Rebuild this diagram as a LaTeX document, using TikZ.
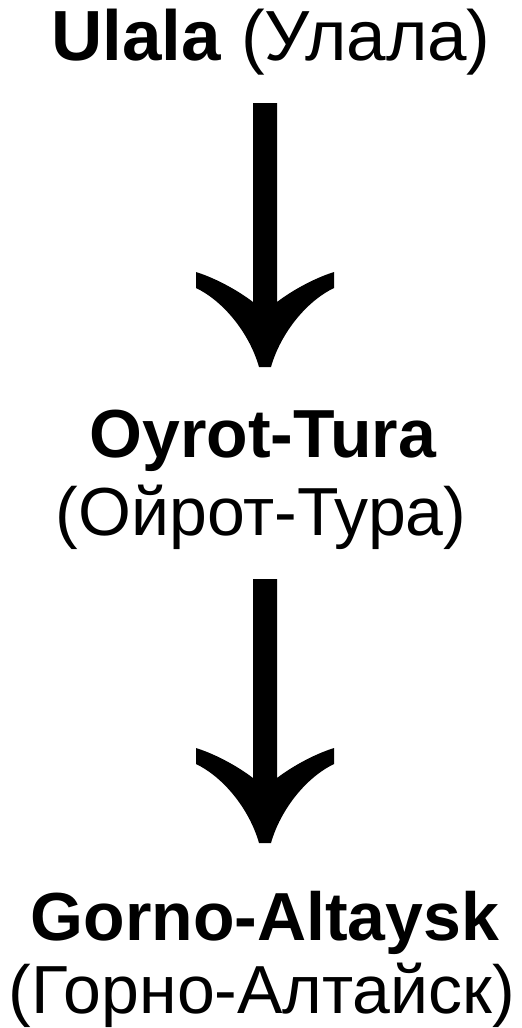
\documentclass[tikz,border=0pt]{standalone}
\usepackage{fontspec}
\setmainfont{Liberation Sans}
\usepackage{tikz}
\usetikzlibrary{calc}

% 粗箭头：#1 顶端, #2 尖端
\newcommand{\dnarrow}[2]{%
  \fill ($(#1)+(-12,0)$) -- ($(#1)+(12,0)$)
    -- ($(#2)+(12,-65)$)
    .. controls ($(#2)+(25,-75)$) and ($(#2)+(47,-88)$) .. ($(#2)+(69,-95)$)
    -- ($(#2)+(69,-79)$)
    .. controls ($(#2)+(40,-65)$) and ($(#2)+(15,-32)$) .. ($(#2)+(6,0)$)
    -- ($(#2)+(-6,0)$)
    .. controls ($(#2)+(-15,-32)$) and ($(#2)+(-40,-65)$) .. ($(#2)+(-69,-79)$)
    -- ($(#2)+(-69,-95)$)
    .. controls ($(#2)+(-47,-88)$) and ($(#2)+(-25,-75)$) .. ($(#2)+(-12,-65)$)
    -- cycle;}

\begin{document}
\begin{tikzpicture}[x=0.5pt,y=-0.5pt,
    placename/.style={anchor=base,inner sep=0pt,font=\fontsize{34}{40}\selectfont}]
    % 画布
    \useasboundingbox (0,0) rectangle (521,1028);

    % 地名
    \node[placename,font=\fontsize{35.5}{40}\selectfont] (ulala) at (271,60) {\textbf{Ulala} (Улала)};
    \node[placename] (oyrot) at (263,457) {\textbf{Oyrot-Tura}};
    \node[placename] (oyrotru) at (261,535) {(Ойрот-Тура)};
    \node[placename] (gorno) at (265,940) {\textbf{Gorno-Altaysk}};
    \node[placename] (gornoru) at (262,1013) {(Горно-Алтайск)};

    % 箭头端点
    \coordinate (a1top) at (265,103);
    \coordinate (a1tip) at (265,367);
    \coordinate (a2top) at (265,579);
    \coordinate (a2tip) at (265,843);

    % 箭头
    \dnarrow{a1top}{a1tip}
    \dnarrow{a2top}{a2tip}
\end{tikzpicture}
\end{document}
